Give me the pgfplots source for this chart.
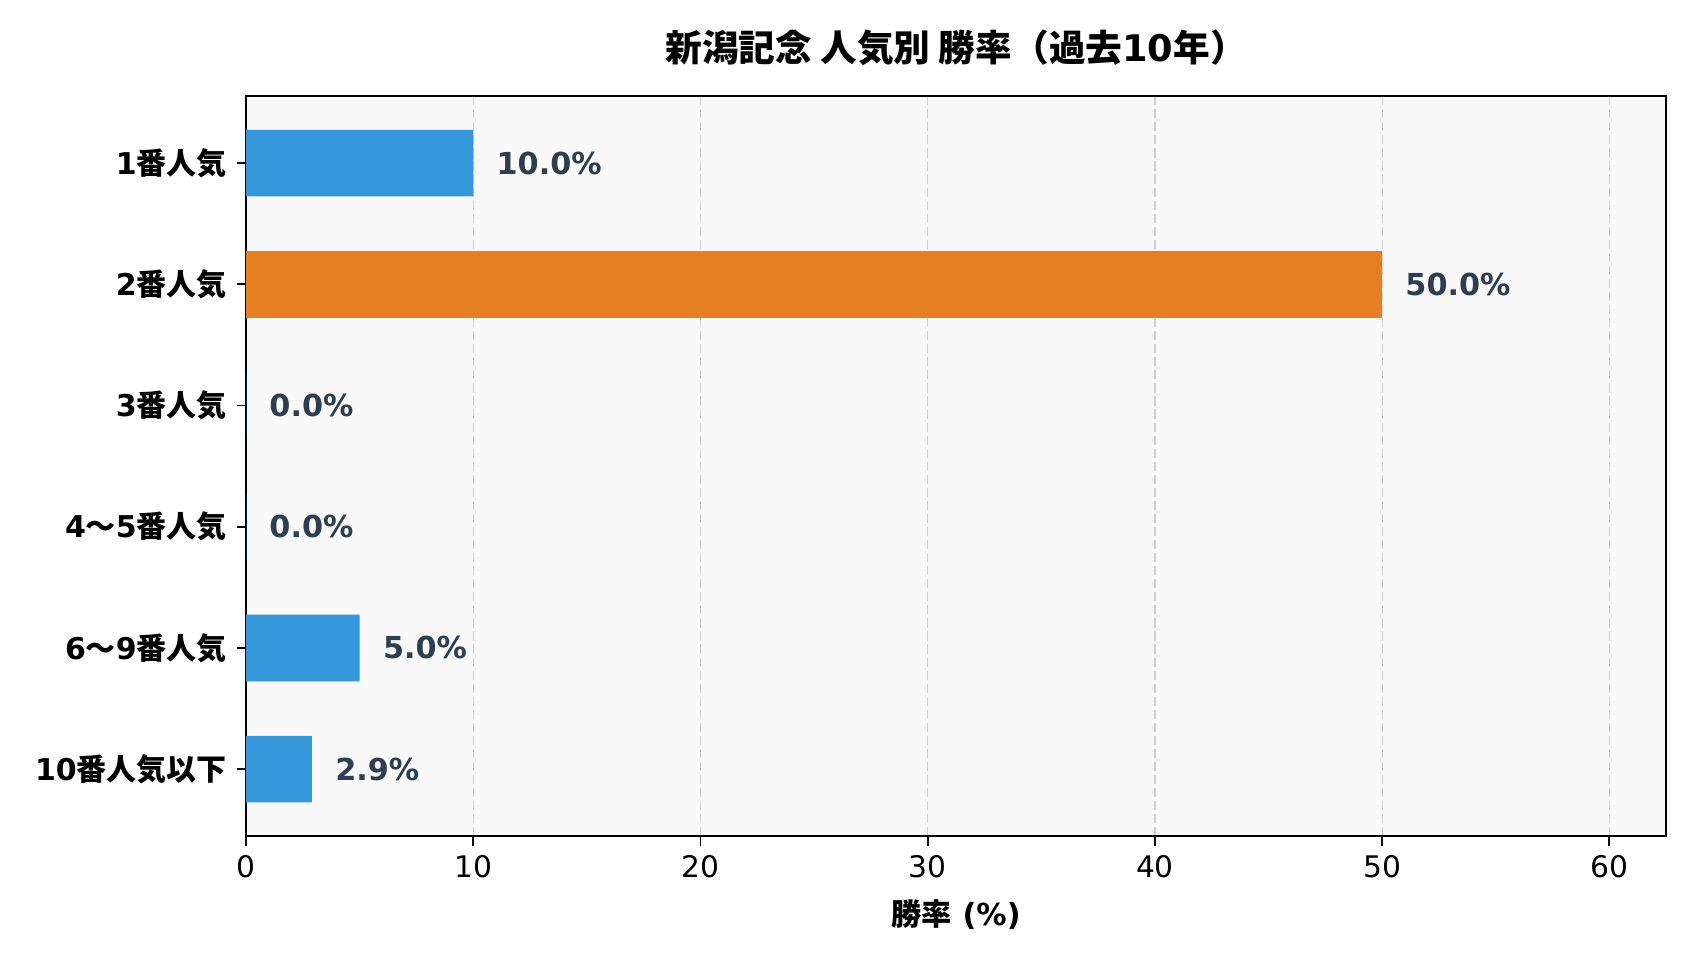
\documentclass[border=0pt]{standalone}
\usepackage{pgfplots}
\pgfplotsset{compat=1.18}
\usepackage{fontspec}
\setmainfont{DejaVu Sans}
\newfontfamily\cjk{Noto Sans CJK JP}
\definecolor{barblue}{HTML}{3498DB}
\definecolor{barorange}{HTML}{E67E22}
\definecolor{valtext}{HTML}{2C3E50}
\definecolor{panel}{HTML}{F9F9F9}
\definecolor{gridgray}{HTML}{CFCFCF}
\newcommand\lbl[1]{{\cjk #1}}

\begin{document}
\begin{tikzpicture}
\begin{axis}[
  scale only axis,
  width=511.2pt, height=266.4pt,
  xbar, bar width=0.55, bar shift=0pt,
  y dir=reverse,
  xmin=0, xmax=62.5,
  ymin=-0.5525, ymax=5.5525,
  xtick={0,10,...,60},
  ytick={0,...,5},
  yticklabels={
    1\lbl{番人気},
    2\lbl{番人気},
    3\lbl{番人気},
    4\lbl{～}5\lbl{番人気},
    6\lbl{～}9\lbl{番人気},
    10\lbl{番人気以下}},
  tick align=outside,
  xtick pos=bottom, ytick pos=left,
  major tick length=3.4pt,
  tick style={black, line width=0.6pt},
  axis line style={black, line width=0.7pt},
  axis background/.style={fill=panel},
  xmajorgrids,
  major grid style={gridgray, line width=0.45pt, dash pattern=on 3.3pt off 1.4pt},
  /pgf/number format/assume math mode=true,
  ticklabel style={font=\fontsize{10.7}{12.5}\selectfont, black},
  yticklabel style={font=\fontsize{10.8}{12.5}\selectfont\bfseries},
  title={\lbl{新潟記念 人気別 勝率（過去}10\lbl{年）}},
  title style={font=\fontsize{13.2}{15}\selectfont\bfseries, at={(0.5,1)}, anchor=center, yshift=11.4pt},
  xlabel={\lbl{勝率} (\%)},
  xlabel style={font=\fontsize{10.9}{12.5}\selectfont\bfseries, at={(0.5,0)}, anchor=center, yshift=-28.2pt},
  point meta=x,
  nodes near coords={\pgfmathprintnumber[fixed,fixed zerofill,precision=1]{\pgfplotspointmeta}\%},
  nodes near coords style={anchor=west, inner sep=0pt, xshift=8.2pt,
    font=\fontsize{10.9}{12.5}\selectfont\bfseries, text=valtext},
]
  \addplot[fill=barblue, draw=none]
    coordinates {(10.0,0) (0.0,2) (0.0,3) (5.0,4) (2.9,5)};
  \addplot[fill=barorange, draw=none]
    coordinates {(50.0,1)};
  \coordinate (sw) at (rel axis cs:0,0);
\end{axis}
\pgfresetboundingbox
\path (sw) ++(-88.6pt,-44.6pt) rectangle ++(612pt,345.6pt);
\end{tikzpicture}
\end{document}
